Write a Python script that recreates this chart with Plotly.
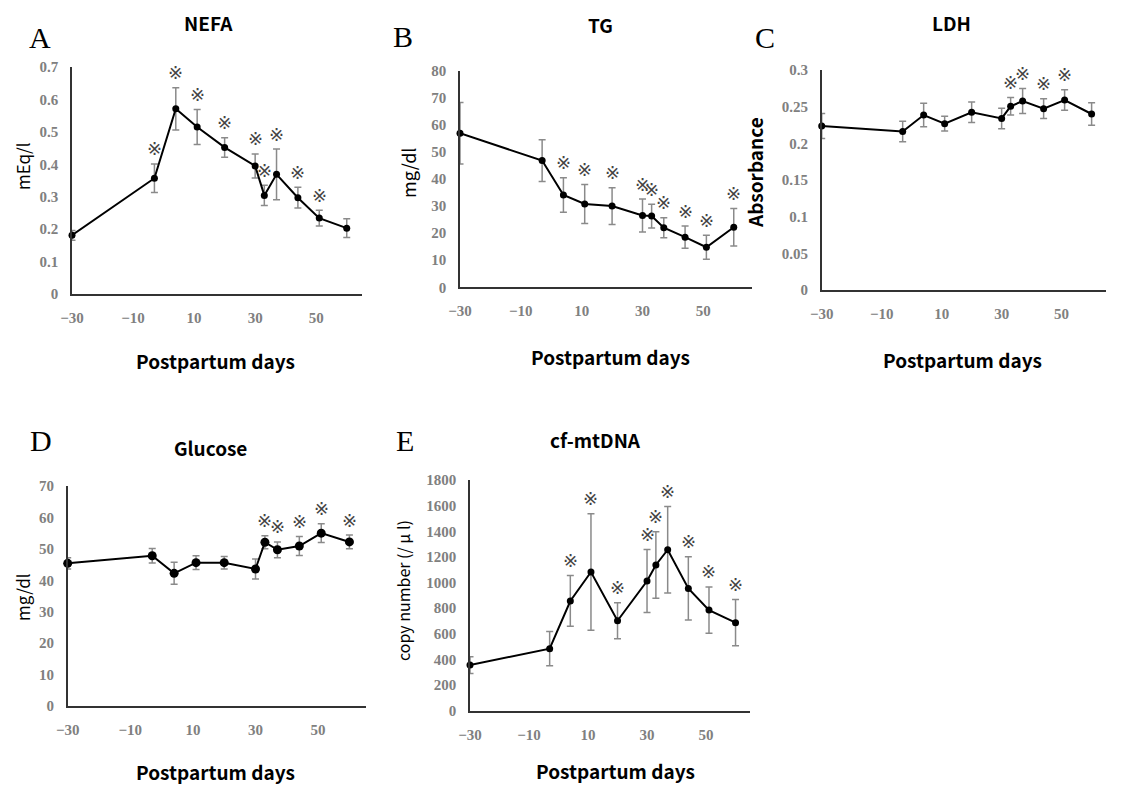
import plotly.graph_objects as go

W, H = 1121, 785

# ---------------- data ----------------
days = [-30, -3, 4, 11, 20, 30, 33, 37, 44, 51, 60]

nefa_mean = [0.181, 0.357, 0.571, 0.515, 0.452, 0.395, 0.304, 0.369, 0.297, 0.234, 0.203]
nefa_err = [0.015, 0.044, 0.065, 0.054, 0.030, 0.037, 0.031, 0.078, 0.032, 0.024, 0.029]
nefa_sig = [0, 1, 1, 1, 1, 1, 1, 1, 1, 1, 0]

tg_mean = [56.9, 46.8, 34.1, 30.8, 30.0, 26.5, 26.3, 22.0, 18.5, 14.8, 22.2]
tg_err = [11.4, 7.7, 6.4, 7.2, 6.8, 6.1, 4.4, 3.7, 4.1, 4.4, 6.9]
tg_sig = [0, 0, 1, 1, 1, 1, 1, 1, 1, 1, 1]

ldh_mean = [0.2236, 0.216, 0.2386, 0.2268, 0.2423, 0.234, 0.2505, 0.2577, 0.2473, 0.259, 0.240]
ldh_err = [0.017, 0.014, 0.016, 0.010, 0.014, 0.014, 0.012, 0.017, 0.0135, 0.014, 0.0155]
ldh_sig = [0, 0, 0, 0, 0, 0, 1, 1, 1, 1, 0]

glu_mean = [45.4, 47.8, 42.2, 45.6, 45.6, 43.6, 52.1, 49.7, 50.9, 55.0, 52.2]
glu_err = [1.8, 2.3, 3.5, 2.2, 2.0, 3.2, 2.1, 2.5, 3.0, 3.0, 2.2]
glu_sig = [0, 0, 0, 0, 0, 0, 1, 1, 1, 1, 1]

mt_mean = [356, 484, 856, 1082, 702, 1012, 1137, 1256, 954, 785, 687]
mt_err = [65, 134, 198, 455, 140, 246, 259, 338, 247, 181, 180]
mt_sig = [0, 0, 1, 1, 1, 1, 1, 1, 1, 1, 1]

x_ticks = [-30, -10, 10, 30, 50]

panels = [
    dict(letter="A", title="NEFA", ytitle="mEq/l", mean=nefa_mean, err=nefa_err, sig=nefa_sig,
         yrange=[0, 0.7], dtick=0.1, xpx=[72, 362], ypx=[67, 294], xmax=65, msize=7,
         letter_pos=(40, 38), title_pos=(208, 23), ytitle_pos=(23, 166), xtitle_pos=(215, 360),
         ytitle_bold=False, ytitle_size=17),
    dict(letter="B", title="TG", ytitle="mg/dl", mean=tg_mean, err=tg_err, sig=tg_sig,
         yrange=[0, 80], dtick=10, xpx=[460, 752], ypx=[70.7, 287.3], xmax=66, msize=7,
         letter_pos=(403, 37), title_pos=(600, 25), ytitle_pos=(408, 173), xtitle_pos=(610, 356),
         ytitle_bold=False, ytitle_size=18),
    dict(letter="C", title="LDH", ytitle="Absorbance", mean=ldh_mean, err=ldh_err, sig=ldh_sig,
         yrange=[0, 0.3], dtick=0.05, xpx=[821.7, 1106], ypx=[70, 290], xmax=64.8, msize=7,
         letter_pos=(765, 38), title_pos=(951, 23), ytitle_pos=(755, 173), xtitle_pos=(962, 359),
         ytitle_bold=True, ytitle_size=19),
    dict(letter="D", title="Glucose", ytitle="mg/dl", mean=glu_mean, err=glu_err, sig=glu_sig,
         yrange=[0, 70], dtick=10, xpx=[67.7, 365.7], ypx=[486, 706], xmax=65.2, msize=9,
         letter_pos=(41, 440), title_pos=(210, 447), ytitle_pos=(22, 597), xtitle_pos=(215, 771),
         ytitle_bold=False, ytitle_size=17),
    dict(letter="E", title="cf-mtDNA", ytitle="copy number (/ μ l)", mean=mt_mean, err=mt_err, sig=mt_sig,
         yrange=[0, 1800], dtick=200, xpx=[470, 750], ypx=[480, 710.7], xmax=64.9, msize=7,
         letter_pos=(405, 440), title_pos=(595, 439), ytitle_pos=(403, 591), xtitle_pos=(615, 770),
         ytitle_bold=False, ytitle_size=16),
]

fig = go.Figure()
annotations = []
layout_axes = {}

tickfont = dict(family="Liberation Serif", size=15, color="#808080", weight="bold")
sans = "Noto Sans CJK JP"


def px(x):
    return x / W


def py(y):
    return 1 - y / H


for i, p in enumerate(panels):
    n = i + 1
    xa = "x" if n == 1 else f"x{n}"
    ya = "y" if n == 1 else f"y{n}"
    xkey = "xaxis" if n == 1 else f"xaxis{n}"
    ykey = "yaxis" if n == 1 else f"yaxis{n}"

    fig.add_trace(go.Scatter(
        x=days, y=p["mean"], mode="lines+markers", xaxis=xa, yaxis=ya,
        line=dict(color="black", width=2),
        marker=dict(color="black", size=p["msize"]),
        error_y=dict(type="data", array=p["err"], visible=True, color="#8a8a8a",
                     thickness=1.5, width=3.5),
        cliponaxis=False, showlegend=False, hoverinfo="skip",
    ))

    layout_axes[xkey] = dict(
        domain=[px(p["xpx"][0]), px(p["xpx"][1])], anchor=ya,
        range=[-30, p["xmax"]], tickmode="array", tickvals=x_ticks,
        showline=True, linecolor="#333333", linewidth=1.6, automargin=False,
        showgrid=False, zeroline=False, ticks="outside", ticklen=9,
        tickcolor="rgba(0,0,0,0)", tickfont=tickfont,
    )
    layout_axes[ykey] = dict(
        domain=[py(p["ypx"][1]), py(p["ypx"][0])], anchor=xa,
        range=p["yrange"], tick0=0, dtick=p["dtick"],
        showline=True, linecolor="#333333", linewidth=1.6, automargin=False,
        showgrid=False, zeroline=False, ticks="outside", ticklen=9,
        tickcolor="rgba(0,0,0,0)", tickfont=tickfont,
    )

    # significance marks
    for d, m, e, s in zip(days, p["mean"], p["err"], p["sig"]):
        if s:
            annotations.append(dict(
                x=d, y=m + e, xref=xa, yref=ya, text="※", showarrow=False,
                yshift=15, yanchor="middle", xanchor="center",
                font=dict(family="DejaVu Sans", size=18, color="#444444"),
            ))

    # panel letter
    annotations.append(dict(
        x=px(p["letter_pos"][0]), y=py(p["letter_pos"][1]), xref="paper", yref="paper",
        text=p["letter"], showarrow=False, xanchor="center", yanchor="middle",
        font=dict(family="Liberation Serif", size=30, color="black"),
    ))
    # title
    annotations.append(dict(
        x=px(p["title_pos"][0]), y=py(p["title_pos"][1]), xref="paper", yref="paper",
        text=p["title"], showarrow=False, xanchor="center", yanchor="middle",
        font=dict(family=sans, size=19, color="black", weight="bold"),
    ))
    # y title
    annotations.append(dict(
        x=px(p["ytitle_pos"][0]), y=py(p["ytitle_pos"][1]), xref="paper", yref="paper",
        text=p["ytitle"], showarrow=False, xanchor="center", yanchor="middle", textangle=-90,
        font=dict(family=sans, size=p["ytitle_size"], color="black",
                  weight="bold" if p["ytitle_bold"] else "normal"),
    ))
    # x title
    annotations.append(dict(
        x=px(p["xtitle_pos"][0]), y=py(p["xtitle_pos"][1]), xref="paper", yref="paper",
        text="Postpartum days", showarrow=False, xanchor="center", yanchor="middle",
        font=dict(family=sans, size=19, color="black", weight="bold"),
    ))

fig.update_layout(
    template="none",
    width=W, height=H, margin=dict(l=0, r=0, t=0, b=0, pad=0, autoexpand=False),
    paper_bgcolor="white", plot_bgcolor="white",
    annotations=annotations, showlegend=False, hovermode=False,
    **layout_axes,
)

fig.write_html(
    "out.html",
    config={"displayModeBar": False, "responsive": False},
    post_script="document.body.style.margin='0';document.body.style.overflow='hidden';",
)
